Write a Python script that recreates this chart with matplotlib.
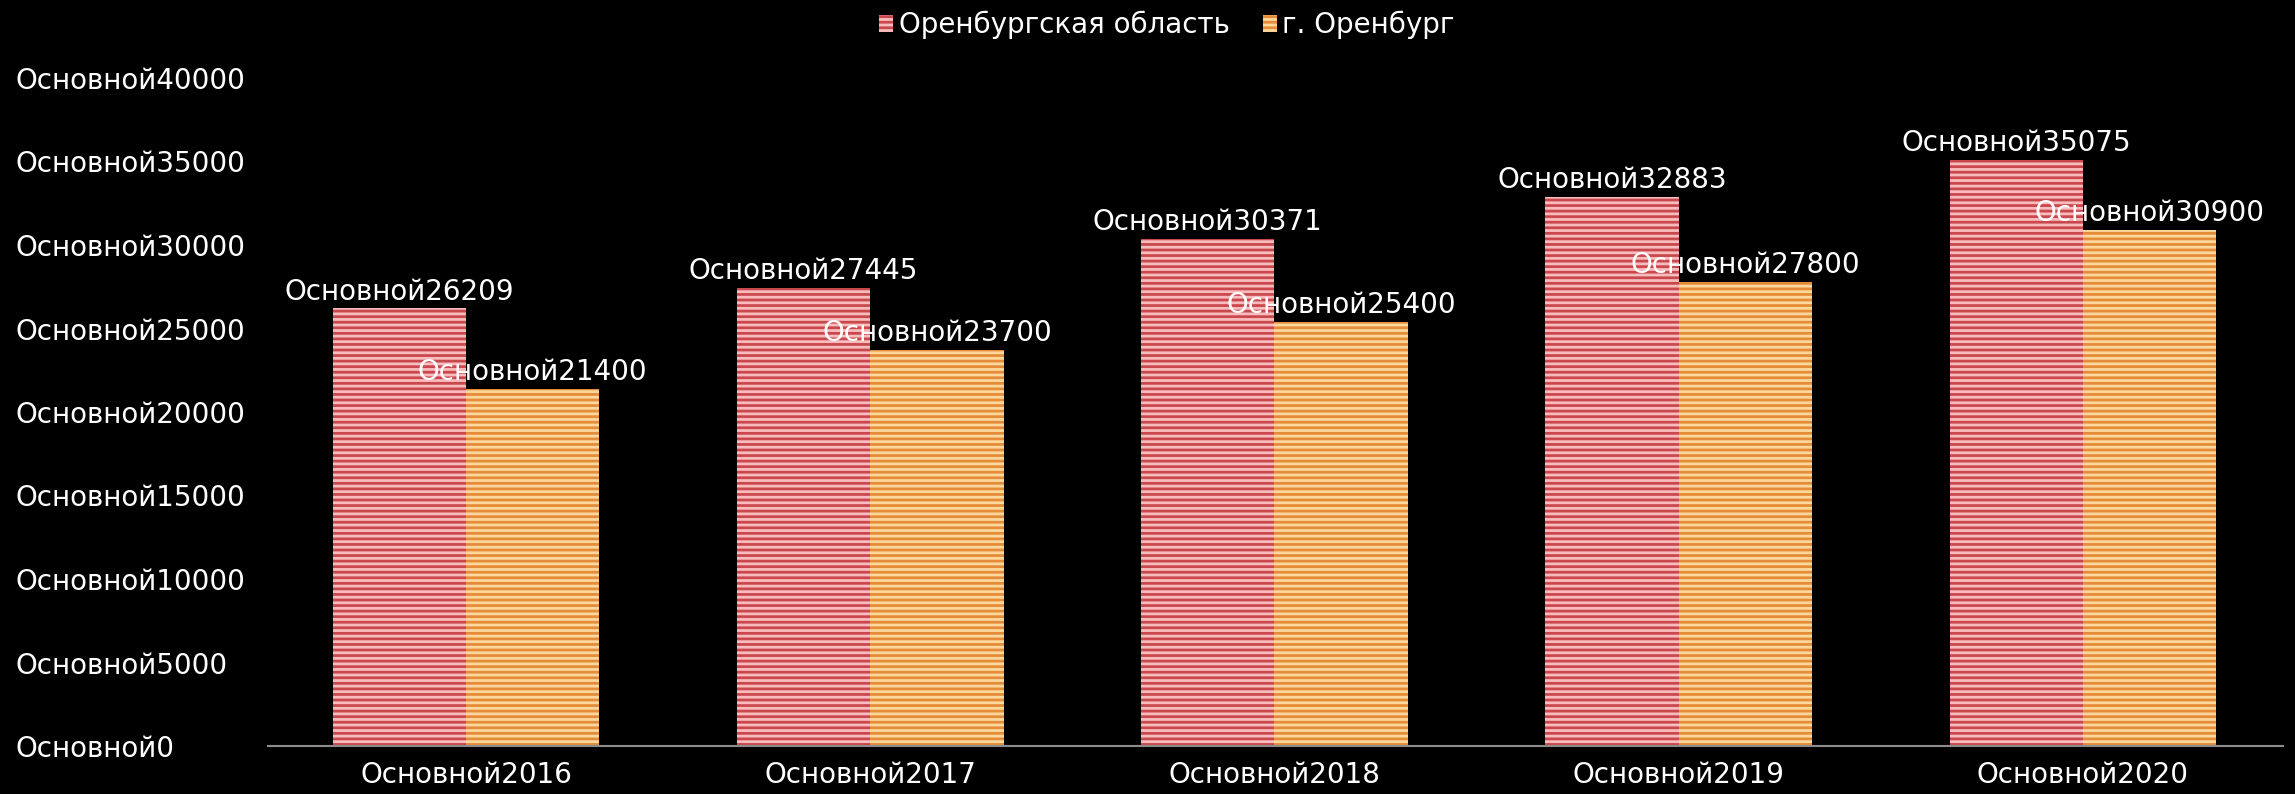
import matplotlib
matplotlib.use("Agg")
import matplotlib.pyplot as plt
import numpy as np

years = ["2016", "2017", "2018", "2019", "2020"]
region = [26209, 27445, 30371, 32883, 35075]
city = [21400, 23700, 25400, 27800, 30900]
series_names = ["Оренбургская область", "г. Оренбург"]
prefix = "Основной"
yticks = [0, 5000, 10000, 15000, 20000, 25000, 30000, 35000, 40000]

plt.rcParams['font.family'] = ['DejaVu Sans']
plt.rcParams['hatch.linewidth'] = 2.0

W, H = 2295, 794
fig = plt.figure(figsize=(W / 100, H / 100), dpi=100, facecolor='black')
ax = fig.add_axes([268 / W, 48 / H, (2283 - 268) / W, (746 - 78) / H])
ax.set_facecolor('black')

x = np.arange(len(years))
bw = 0.33
b1 = ax.bar(x - bw / 2, region, bw, color='#c8484e', edgecolor='#f9bcbc',
            hatch='---', linewidth=0, label=series_names[0])
b2 = ax.bar(x + bw / 2, city, bw, color='#e58c38', edgecolor='#fcd79c',
            hatch='---', linewidth=0, label=series_names[1])

fs = 20
for bars, vals in ((b1, region), (b2, city)):
    for r, v in zip(bars, vals):
        ax.annotate(f"{prefix}{v}", (r.get_x() + r.get_width() / 2, v),
                    xytext=(0, 2), textcoords='offset points',
                    ha='center', va='bottom', color='white', fontsize=fs)

ax.set_xlim(-0.49, 4.495)
ax.set_ylim(0, 40000)
ax.set_xticks(x)
ax.set_xticklabels([prefix + y for y in years], color='white', fontsize=fs)
ax.set_yticks(yticks)
ax.set_yticklabels([prefix + str(t) for t in yticks], color='white', fontsize=fs)
for lbl in ax.get_yticklabels():
    lbl.set_horizontalalignment('left')
ax.tick_params(axis='y', length=0, pad=182)
ax.tick_params(axis='x', length=0, pad=11)

for s in ('top', 'right', 'left'):
    ax.spines[s].set_visible(False)
ax.spines['bottom'].set_color('#8c8c8c')
ax.spines['bottom'].set_linewidth(1.5)

leg = fig.legend(handles=[b1, b2], labels=series_names, loc='center',
                 bbox_to_anchor=(1167 / W, 1 - 25 / H), ncol=2, frameon=False,
                 fontsize=20, labelcolor='white', handlelength=0.5,
                 handleheight=0.6, handletextpad=0.2, columnspacing=1.2)

fig.savefig("out.png", dpi=100, facecolor='black')
